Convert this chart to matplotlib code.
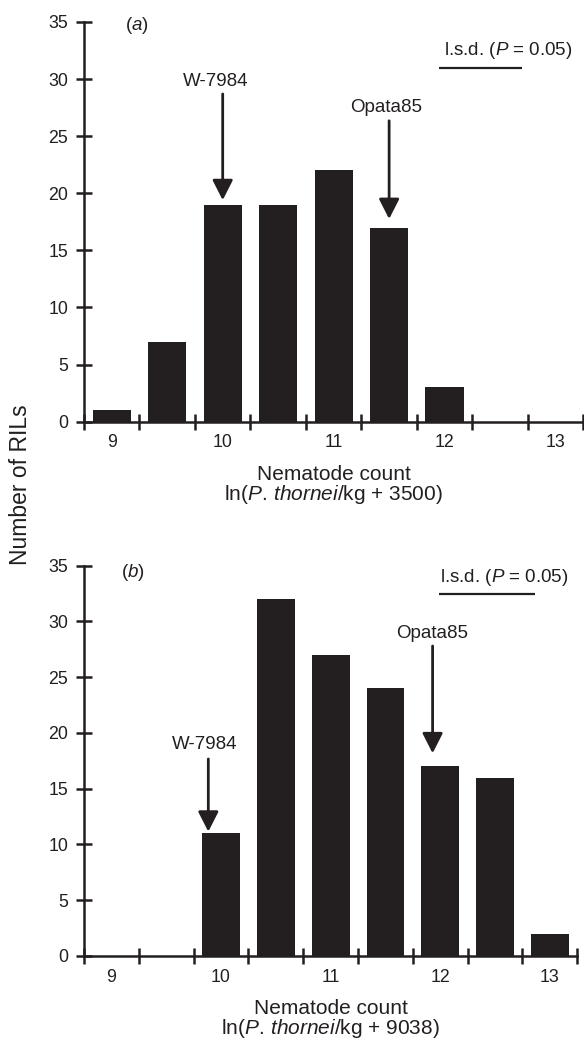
import numpy as np
import matplotlib
matplotlib.use("Agg")
import matplotlib.pyplot as plt

plt.rcParams['font.family'] = ['Liberation Sans', 'DejaVu Sans']
plt.rcParams['mathtext.fontset'] = 'custom'
plt.rcParams['mathtext.rm'] = 'Liberation Sans'
plt.rcParams['mathtext.it'] = 'Liberation Sans:italic'

encre = '#231f20'

# classes de ln(nombre de nematodes), pas de 0.5
classes = [9.0, 9.5, 10.0, 10.5, 11.0, 11.5, 12.0, 12.5, 13.0]
ril_a = [1, 7, 19, 19, 22, 17, 3, 0, 0]
ril_b = [0, 0, 11, 32, 27, 24, 17, 16, 2]
etiquettes_x = ['9', '10', '11', '12', '13']
decalage_a = 3500
decalage_b = 9038

W, H = 584, 1043
fig = plt.figure(figsize=(W / 100, H / 100), dpi=100)


def px_box(gauche, droite, haut, bas):
    return [gauche / W, 1 - bas / H, (droite - gauche) / W, (bas - haut) / H]


def panneau(ax, comptes, lettre, pos_lettre, parents, lsd):
    ax.bar(classes, comptes, width=0.345, color=encre, linewidth=0)
    ax.set_xlim(8.75, 13.25)
    ax.set_ylim(0, 35)
    for s in ['top', 'right']:
        ax.spines[s].set_visible(False)
    for s in ['left', 'bottom']:
        ax.spines[s].set_linewidth(1.8)
        ax.spines[s].set_color(encre)

    ax.set_xticks(np.arange(8.75, 13.3, 0.5))
    ax.set_xticklabels([])
    ax.set_xticks([9, 10, 11, 12, 13], minor=True)
    ax.set_xticklabels(etiquettes_x, minor=True)
    ax.set_yticks(range(0, 36, 5))
    ax.tick_params(which='major', direction='inout', length=12, width=1.8,
                   color=encre, labelsize=12.8, labelcolor=encre)
    ax.tick_params(axis='y', pad=5.5)
    ax.tick_params(axis='x', which='minor', length=0, pad=9,
                   labelsize=12.8, labelcolor=encre)

    ax.text(pos_lettre[0], pos_lettre[1], r'($\mathit{%s}$)' % lettre,
            fontsize=13.5, color=encre, ha='center', va='baseline')

    for nom, x_txt, y_txt, x_fl, y0, y1 in parents:
        ax.text(x_txt, y_txt, nom, fontsize=13.5, color=encre,
                ha='center', va='baseline')
        ax.annotate('', xy=(x_fl, y1), xytext=(x_fl, y0),
                    arrowprops=dict(arrowstyle='-|>,head_length=1.22,head_width=0.62',
                                    mutation_scale=10, lw=2.0, color=encre,
                                    shrinkA=0, shrinkB=0))

    x0, x1, y_l, x_t, y_t = lsd
    ax.plot([x0, x1], [y_l, y_l], color=encre, lw=1.6, solid_capstyle='butt')
    ax.text(x_t, y_t, r'l.s.d. ($\mathit{P}$ = 0.05)', fontsize=13.5,
            color=encre, ha='center', va='baseline')


ax_a = fig.add_axes(px_box(84, 583.3, 22, 421.7))
panneau(ax_a, ril_a, 'a', (9.23, 34.3),
        [('W-7984', 9.94, 29.4, 10.0, 28.7, 19.4),
         ('Opata85', 11.47, 27.15, 11.5, 26.35, 17.75)],
        (11.95, 12.70, 30.95, 12.57, 32.1))

ax_b = fig.add_axes(px_box(84, 577.3, 565.7, 956))
panneau(ax_b, ril_b, 'b', (9.20, 33.96),
        [('W-7984', 9.85, 18.54, 9.884, 17.67, 11.15),
         ('Opata85', 11.927, 28.49, 11.93, 27.8, 18.18)],
        (11.99, 12.865, 32.47, 12.584, 33.57))

# titres des axes x (deux lignes) et titre commun y
for cx, bas0, dec in [(333.7, 421.7, decalage_a), (330.7, 956, decalage_b)]:
    fig.text(cx / W, 1 - (bas0 + 58) / H, 'Nematode count', fontsize=15,
             color=encre, ha='center', va='baseline')
    fig.text(cx / W, 1 - (bas0 + 78.3) / H,
             r'ln($\mathit{P.\,thornei}$/kg + %d)' % dec, fontsize=15,
             color=encre, ha='center', va='baseline')

fig.text(21 / W, 1 - 485 / H, 'Number of RILs', fontsize=16.5, color=encre,
         rotation=90, ha='center', va='center')

fig.savefig('out.png', dpi=100)
